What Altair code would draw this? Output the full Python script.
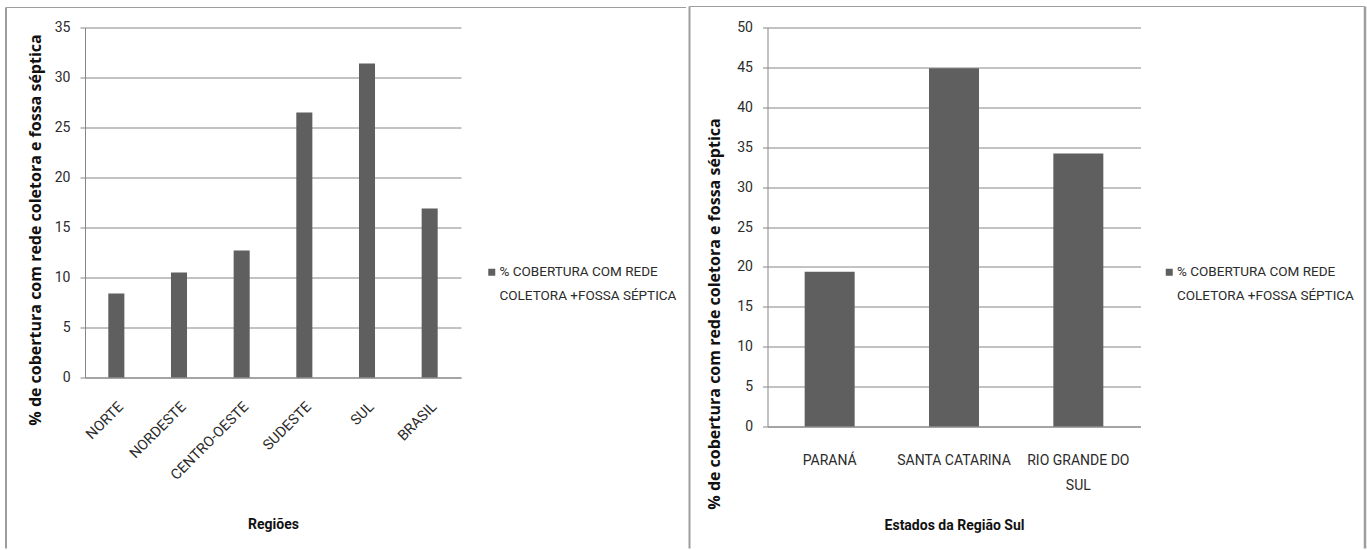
import json

import altair as alt
import pandas as pd

# --- data -------------------------------------------------------------
regioes = ["NORTE", "NORDESTE", "CENTRO-OESTE", "SUDESTE", "SUL", "BRASIL"]
cobertura_regioes = [8.4, 10.5, 12.7, 26.5, 31.4, 16.9]

estados_sul = ["PARANÁ", "SANTA CATARINA", "RIO GRANDE DO SUL"]
cobertura_estados = [19.4, 44.9, 34.2]

serie_linhas = ["% COBERTURA COM REDE", "COLETORA +FOSSA SÉPTICA"]
serie = " ".join(serie_linhas)

titulo_y = "% de cobertura com rede coletora e fossa séptica"
titulo_x_regioes = "Regiões"
titulo_x_estados = "Estados da Região Sul"

ticks_regioes = list(range(0, 36, 5))
ticks_estados = list(range(0, 51, 5))

# --- style ------------------------------------------------------------
BAR = "#5f5f5f"
GRID = "#868686"
FRAME = "#9d9d9d"
TXT = "#2b2b2b"
FONT = "Roboto"
TITLE_FONT = "Open Sans"

df_regioes = pd.DataFrame({"local": regioes, "valor": cobertura_regioes, "serie": serie})
df_estados = pd.DataFrame({"local": estados_sul, "valor": cobertura_estados, "serie": serie})
um = pd.DataFrame({"k": [0]})

legend_expr = json.dumps(serie_linhas, ensure_ascii=False)


def legenda(x, y):
    return alt.Legend(
        title=None,
        orient="none",
        legendX=x,
        legendY=y,
        symbolType="square",
        symbolSize=49,
        symbolStrokeWidth=0,
        labelFont=FONT,
        labelFontSize=13.5,
        labelColor=TXT,
        labelExpr=legend_expr,
        labelOffset=1,
        labelLimit=400,
        padding=0,
    )


def eixo_y(values, title_x, title_y):
    return alt.Axis(
        values=values,
        grid=True,
        gridColor=GRID,
        gridWidth=1,
        domainColor=GRID,
        tickColor=GRID,
        tickSize=5,
        labelPadding=10,
        labelFont=FONT,
        labelFontSize=14,
        labelColor=TXT,
        title=titulo_y,
        titleFont=TITLE_FONT,
        titleFontSize=16,
        titleFontWeight="bold",
        titleColor="#111111",
        titleAngle=270,
        titleAlign="center",
        titleBaseline="middle",
        titleX=title_x,
        titleY=title_y,
    )


def moldura(lines):
    """Panel frame drawn as rules, in pixel units of the panel."""
    layers = []
    for (x1, x2, y1, y2, w) in lines:
        enc = {"x": alt.value(x1), "y": alt.value(y1)}
        if x2 is not None:
            enc["x2"] = alt.value(x2)
        if y2 is not None:
            enc["y2"] = alt.value(y2)
        layers.append(
            alt.Chart(um).mark_rule(color=FRAME, strokeWidth=w, strokeCap="butt").encode(**enc)
        )
    return layers


# --- left panel: regions ---------------------------------------------
W1, H1 = 376, 350
barras_regioes = alt.Chart(df_regioes).mark_bar(color=BAR).encode(
    x=alt.X(
        "local:N",
        sort=regioes,
        scale=alt.Scale(paddingInner=0.744, paddingOuter=0.372),
        axis=alt.Axis(
            labelAngle=-45,
            ticks=False,
            domainColor=GRID,
            labelPadding=22,
            labelFont=FONT,
            labelFontSize=14.5,
            labelColor=TXT,
            title=titulo_x_regioes,
            titleFont=FONT,
            titleFontSize=14,
            titleFontWeight="bold",
            titleColor="#111111",
            titleBaseline="middle",
            titleY=147,
            titleX=W1 / 2,
        ),
    ),
    y=alt.Y(
        "valor:Q",
        scale=alt.Scale(domain=[0, 35], nice=False),
        axis=eixo_y(ticks_regioes, -50, 202),
    ),
    color=alt.Color("serie:N", scale=alt.Scale(range=[BAR]), legend=legenda(400, 238)),
)

painel_regioes = alt.layer(
    barras_regioes,
    *moldura([
        (-79, None, -20, 521, 2),
        (-79, 601, -20, None, 1),
    ]),
).properties(width=W1, height=H1)

# --- right panel: southern states ------------------------------------
W2, H2 = 373, 399
barras_estados = alt.Chart(df_estados).mark_bar(color=BAR).encode(
    x=alt.X(
        "local:N",
        sort=estados_sul,
        scale=alt.Scale(paddingInner=0.598, paddingOuter=0.299),
        axis=alt.Axis(
            labelAngle=0,
            ticks=False,
            domainColor=GRID,
            labelPadding=27,
            labelFont=FONT,
            labelFontSize=14,
            labelColor=TXT,
            labelLineHeight=25,
            labelBaseline="top",
            labelExpr="datum.label == 'RIO GRANDE DO SUL' ? ['RIO GRANDE DO', 'SUL'] : datum.label",
            title=titulo_x_estados,
            titleFont=FONT,
            titleFontSize=14,
            titleFontWeight="bold",
            titleColor="#111111",
            titleBaseline="middle",
            titleY=99,
            titleX=W2 / 2,
        ),
    ),
    y=alt.Y(
        "valor:Q",
        scale=alt.Scale(domain=[0, 50], nice=False),
        axis=eixo_y(ticks_estados, -53, 286),
    ),
    color=alt.Color("serie:N", scale=alt.Scale(range=[BAR]), legend=legenda(395, 238)),
)

painel_estados = alt.layer(
    barras_estados,
    *moldura([
        (-78, None, -21, 521, 2),
        (-78, 597, -21, None, 1),
        (597.5, None, -21, 521, 2.5),
    ]),
).properties(width=W2, height=H2)

chart = (
    alt.hconcat(painel_regioes, painel_estados, spacing=1.5)
    .resolve_scale(color="independent", y="independent", x="independent")
    .properties(padding={"left": 5, "top": 4.5, "right": 0, "bottom": 0}, background="white")
    .configure(style={"guide-label": alt.MarkConfig(lineHeight=24)})
    .configure_view(strokeWidth=0)
)

chart.save("out.html", embed_options={"renderer": "svg", "actions": False})
